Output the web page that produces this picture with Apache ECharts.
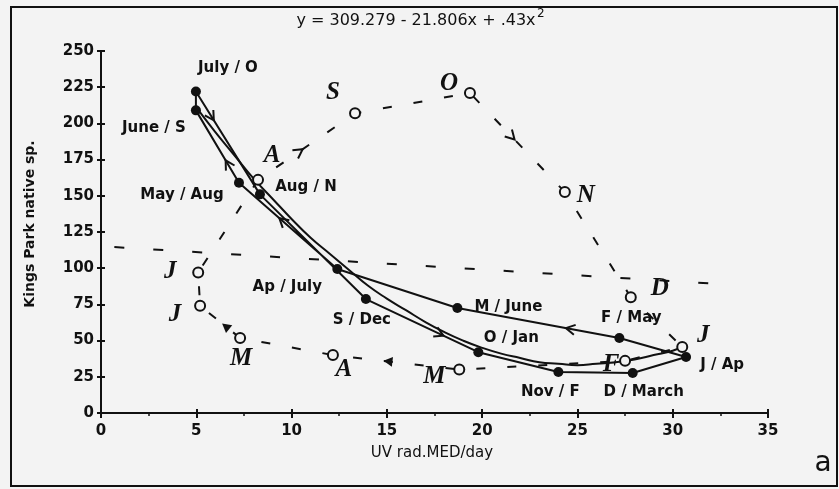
<!DOCTYPE html>
<html><head><meta charset="utf-8">
<script src="https://cdn.jsdelivr.net/npm/echarts@6/dist/echarts.min.js"></script>
<style>html,body{margin:0;padding:0;background:#f3f3f3}#c{width:839px;height:489px}</style>
</head><body><div id="c"></div>
<script>
// ---------------- data ----------------
const xTickValues = [0, 5, 10, 15, 20, 25, 30, 35];
const yTickValues = [0, 25, 50, 75, 100, 125, 150, 175, 200, 225, 250];

// lagged pairs (UV month / species month), closed loop in this order
const lagLabels = ['June / S', 'July / O', 'Aug / N', 'S / Dec', 'O / Jan', 'Nov / F', 'D / March', 'J / Ap', 'F / May', 'M / June', 'Ap / July', 'May / Aug'];
const lagUV = [4.98, 4.98, 8.34, 13.9, 19.8, 24.0, 27.9, 30.7, 27.2, 18.7, 12.4, 7.24];
const lagSp = [209, 222, 151, 78.7, 42, 28.3, 27.6, 38.7, 51.8, 72.5, 99.4, 159];

// same-month pairs (dashed loop), May .. Apr
const monthLetters = ['M', 'J', 'J', 'A', 'S', 'O', 'N', 'D', 'J', 'F', 'M', 'A'];
const monthUV = [7.3, 5.2, 5.1, 8.24, 13.33, 19.36, 24.34, 27.8, 30.5, 27.5, 18.8, 12.17];
const monthSp = [51.8, 74, 97, 161, 207, 221, 152.6, 80, 45.6, 36, 30, 40];

// fitted curve
const fitUV = [5, 6, 7, 8, 9, 10, 11, 12, 13, 14, 15, 16, 17, 18, 19, 20, 21, 22, 23, 24, 25, 26, 27, 28, 29, 30, 30.5];
const fitSp = [211, 194, 178, 162, 148, 134, 121, 110, 99, 88, 79, 71, 63, 56, 50, 45, 41, 38, 35, 34, 33, 34, 35, 37, 40, 43, 46];

// long dashed reference line
const refUV = [0.7, 33.3];
const refSp = [114.6, 88.4];

const titleText = 'y = 309.279 - 21.806x + .43x';
const titleSup = '2';
const xName = 'UV rad.MED/day';
const yName = 'Kings Park native sp.';
const panelTag = 'a';

// ---------------- styling ----------------
const BG = '#f3f3f3', INK = '#111111';
const lagLabelOffsets = [[-42, 18], [32, -23], [46, -7], [-4, 21], [33, -14], [-8, 20], [11, 19], [36, 8], [12, -20], [51, -1], [-50, 18], [-57, 12]];
const letterOffsets = [[2, 22], [-24, 10], [-27, 0], [15, -23], [-21, -20], [-20, -8], [22, 5], [30, -8], [22, -10], [-13, 5], [-24, 8], [12, 15]];
// arrows: which loop, segment index, fraction along segment, kind
const arrowSpecs = [
  {path: 'lag', seg: 1, t: 0.28, kind: 'v'},
  {path: 'lag', seg: 11, t: 0.31, kind: 'v'},
  {path: 'lag', seg: 8, t: 0.33, kind: 'v'},
  {path: 'lag', seg: 10, t: 0.59, kind: 'v'},
  {path: 'lag', seg: 3, t: 0.69, kind: 'v'},
  {path: 'month', seg: 0, t: 0.45, kind: 'tri'},
  {path: 'month', seg: 3, t: 0.46, kind: 'v'},
  {path: 'month', seg: 5, t: 0.47, kind: 'v'},
  {path: 'month', seg: 10, t: 0.6, kind: 'tri'}
];

const zip = (a, b) => a.map((v, i) => [v, b[i]]);
const lagLoop = zip(lagUV, lagSp); lagLoop.push([lagUV[0], lagSp[0]]);
const monthLoop = zip(monthUV, monthSp); monthLoop.push([monthUV[0], monthSp[0]]);

const chart = echarts.init(document.getElementById('c'), null, {renderer: 'canvas'});
const labelFont = {fontFamily: 'DejaVu Sans', fontWeight: 'bold', fontSize: 15, color: INK};
const axisLineStyle = {show: true, lineStyle: {color: INK, width: 2}};

chart.setOption({
  animation: false,
  backgroundColor: BG,
  grid: {left: 101, top: 51, width: 667, height: 362, containLabel: false},
  xAxis: [
    {type: 'value', min: xTickValues[0], max: xTickValues[xTickValues.length - 1], interval: 5, position: 'bottom',
     axisLine: axisLineStyle, axisTick: {show: true, length: 5, lineStyle: {color: INK, width: 2}},
     minorTick: {show: true, splitNumber: 2, length: 3, lineStyle: {color: INK, width: 1.5}},
     splitLine: {show: false}, axisLabel: Object.assign({margin: 11}, labelFont)},
    {type: 'value', min: 0, max: 35, interval: 5, position: 'top',
     axisLine: axisLineStyle, axisTick: {show: true, length: 4, lineStyle: {color: INK, width: 2}},
     splitLine: {show: false}, axisLabel: {show: false}}
  ],
  yAxis: [
    {type: 'value', min: yTickValues[0], max: yTickValues[yTickValues.length - 1], interval: 25, position: 'left',
     axisLine: axisLineStyle, axisTick: {show: true, length: 4, lineStyle: {color: INK, width: 2}},
     splitLine: {show: false}, axisLabel: Object.assign({margin: 7}, labelFont)},
    {type: 'value', min: 0, max: 250, interval: 25, position: 'right',
     axisLine: axisLineStyle, axisTick: {show: true, length: 4, lineStyle: {color: INK, width: 2}},
     splitLine: {show: false}, axisLabel: {show: false}}
  ],
  series: [
    {type: 'line', data: zip(refUV, refSp), symbol: 'none', z: 2,
     lineStyle: {color: INK, width: 2, type: [10, 29]}},
    {type: 'line', data: zip(fitUV, fitSp), smooth: true, symbol: 'none', z: 3,
     lineStyle: {color: INK, width: 2}},
    {type: 'line', data: lagLoop, symbol: 'none', z: 3,
     lineStyle: {color: INK, width: 2}},
    {type: 'line', data: monthLoop, symbol: 'none', z: 2,
     lineStyle: {color: INK, width: 2, type: [9, 22]}},
    {type: 'scatter', data: zip(monthUV, monthSp), symbol: 'circle', symbolSize: 10, z: 5,
     itemStyle: {color: BG, borderColor: INK, borderWidth: 2, opacity: 1},
     label: {show: true, position: [5, 5], align: 'center', verticalAlign: 'middle',
       formatter: p => monthLetters[p.dataIndex], fontFamily: 'Liberation Serif', fontStyle: 'italic',
       fontWeight: 'bold', fontSize: 25, color: INK, opacity: 1},
     labelLayout: p => ({dx: letterOffsets[p.dataIndex][0], dy: letterOffsets[p.dataIndex][1]})},
    {type: 'scatter', data: zip(lagUV, lagSp), symbol: 'circle', symbolSize: 10, z: 6,
     itemStyle: {color: INK, opacity: 1},
     label: Object.assign({show: true, position: [5, 5], align: 'center', verticalAlign: 'middle', opacity: 1,
       formatter: p => lagLabels[p.dataIndex]}, labelFont),
     labelLayout: p => ({dx: lagLabelOffsets[p.dataIndex][0], dy: lagLabelOffsets[p.dataIndex][1]})},
    {type: 'custom', coordinateSystem: 'cartesian2d', z: 7,
     data: arrowSpecs.map(s => s.path === 'lag' ? [lagUV[s.seg], lagSp[s.seg]] : [monthUV[s.seg], monthSp[s.seg]]),
     renderItem: function (params, api) {
       const s = arrowSpecs[params.dataIndex];
       const xs = s.path === 'lag' ? lagUV : monthUV;
       const ys = s.path === 'lag' ? lagSp : monthSp;
       const i = s.seg, j = (i + 1) % xs.length;
       const a = api.coord([xs[i], ys[i]]), b = api.coord([xs[j], ys[j]]);
       const cx = a[0] + (b[0] - a[0]) * s.t, cy = a[1] + (b[1] - a[1]) * s.t;
       const ang = Math.atan2(b[1] - a[1], b[0] - a[0]);
       const L = 9, W = 5;
       const bx = cx - L * Math.cos(ang), by = cy - L * Math.sin(ang);
       const nx = -Math.sin(ang), ny = Math.cos(ang);
       const p1 = [bx + W * nx, by + W * ny], p2 = [bx - W * nx, by - W * ny];
       if (s.kind === 'tri') {
         return {type: 'polygon', shape: {points: [[cx, cy], p1, p2]}, style: {fill: INK}};
       }
       return {type: 'polyline', shape: {points: [p1, [cx, cy], p2]}, style: {stroke: INK, lineWidth: 2, fill: null}};
     }}
  ],
  graphic: [
    {type: 'rect', silent: true, shape: {x: 11, y: 7, width: 826, height: 479},
     style: {fill: 'none', stroke: INK, lineWidth: 2}},
    {type: 'text', silent: true, x: 416, y: 21,
     style: {text: titleText, fontFamily: 'DejaVu Sans', fontSize: 16, fill: INK, align: 'center', verticalAlign: 'middle'}},
    {type: 'text', silent: true, x: 537, y: 14,
     style: {text: titleSup, fontFamily: 'DejaVu Sans', fontSize: 12, fill: INK, align: 'left', verticalAlign: 'middle'}},
    {type: 'text', silent: true, x: 432, y: 453,
     style: {text: xName, fontFamily: 'DejaVu Sans', fontSize: 15, fill: INK, align: 'center', verticalAlign: 'middle'}},
    {type: 'text', silent: true, x: 30, y: 224, rotation: Math.PI / 2,
     style: {text: yName, fontFamily: 'DejaVu Sans', fontWeight: 'bold', fontSize: 14, fill: INK, align: 'center', verticalAlign: 'middle'}},
    {type: 'text', silent: true, x: 823, y: 464,
     style: {text: panelTag, fontFamily: 'DejaVu Sans', fontSize: 28, fill: INK, align: 'center', verticalAlign: 'middle'}}
  ]
});
</script></body></html>
